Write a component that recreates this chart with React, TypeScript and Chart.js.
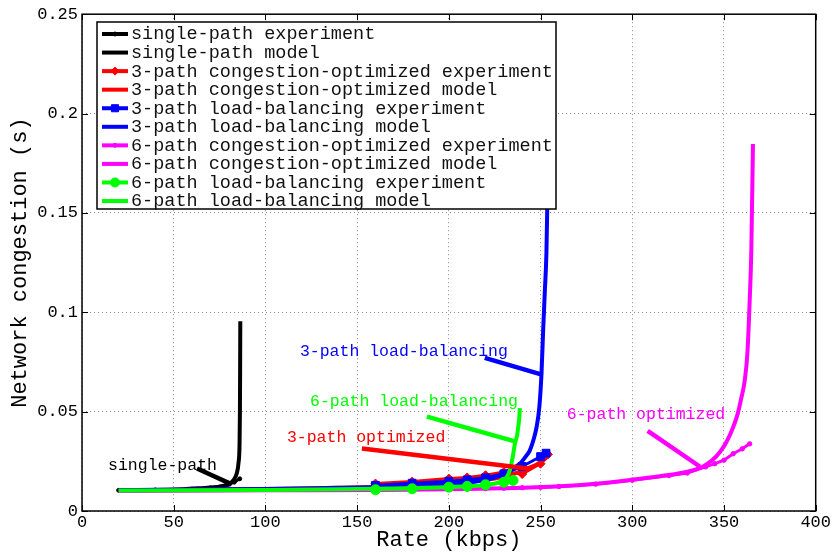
import React, { useEffect, useRef } from 'react';
import { Chart, registerables } from 'chart.js';

Chart.register(...registerables);

const FONT = "'Liberation Mono', 'DejaVu Sans Mono', monospace";

// Axis ticks
const xTickValues = [0, 50, 100, 150, 200, 250, 300, 350, 400];
const yTickValues = [0, 0.05, 0.1, 0.15, 0.2, 0.25];

// single-path
const spExpX = [20, 40, 60, 70, 80, 83, 86];
const spExpY = [0.0104, 0.0106, 0.011, 0.0116, 0.0135, 0.0145, 0.0162];
const spModelX = [20, 40, 55, 65, 72, 77, 80.7, 82.8, 84.3, 85.3, 85.9, 86.1, 86.2, 86.3];
const spModelY = [0.0103, 0.0106, 0.011, 0.0115, 0.0119, 0.0125, 0.0138, 0.0158, 0.0187, 0.024, 0.034, 0.05, 0.07, 0.0955];

// 3-path congestion-optimized
const co3ExpX = [160, 180, 200, 210, 220, 230, 240, 250, 254];
const co3ExpY = [0.0138, 0.0148, 0.0163, 0.0169, 0.018, 0.0196, 0.0186, 0.0238, 0.0285];
const co3ModelX = [20, 60, 100, 140, 160, 180, 200, 215, 225, 235, 243, 250, 254];
const co3ModelY = [0.0104, 0.0107, 0.0111, 0.0117, 0.0121, 0.0128, 0.0138, 0.015, 0.0163, 0.0186, 0.0214, 0.0245, 0.0275];

// 3-path load-balancing
const lb3ExpX = [160, 180, 200, 210, 220, 230, 240, 250, 253];
const lb3ExpY = [0.0129, 0.014, 0.015, 0.0157, 0.0167, 0.0187, 0.0224, 0.0274, 0.0291];
const lb3ModelX = [20, 60, 100, 130, 158.6, 180, 198.7, 210, 218.7, 225, 229.6, 234, 238.7, 242, 244.1, 246.2, 247.8, 249.3, 250.5, 251.4, 252.3, 253.2, 253.8, 254.2];
const lb3ModelY = [0.0105, 0.0108, 0.0111, 0.0115, 0.012, 0.0126, 0.0134, 0.0142, 0.0154, 0.0168, 0.0187, 0.021, 0.0238, 0.0275, 0.0304, 0.036, 0.0421, 0.052, 0.0689, 0.0906, 0.11, 0.13, 0.16, 0.2];

// 6-path congestion-optimized
const co6ExpX = [160, 180, 200, 210, 220, 230, 240, 250, 260, 280, 300, 320, 330, 340, 345, 350, 355, 360, 364];
const co6ExpY = [0.0106, 0.0108, 0.011, 0.0111, 0.0113, 0.0115, 0.0117, 0.0119, 0.0123, 0.0135, 0.0155, 0.0178, 0.0191, 0.0222, 0.0238, 0.0256, 0.0288, 0.0313, 0.0338];
const co6ModelX = [20, 100, 160, 200, 230, 260.5, 280, 299.6, 315, 329.5, 338.6, 343.5, 347.7, 351.5, 355, 357.5, 359.5, 361.3, 362.8, 364, 364.9, 365.8];
const co6ModelY = [0.0101, 0.0104, 0.0106, 0.0109, 0.0114, 0.0124, 0.0137, 0.0157, 0.0175, 0.0196, 0.0224, 0.0255, 0.0296, 0.035, 0.0421, 0.049, 0.0571, 0.0655, 0.08, 0.1056, 0.131, 0.1847];

// 6-path load-balancing
const lb6ExpX = [160, 180, 200, 210, 220, 230, 235];
const lb6ExpY = [0.0107, 0.0112, 0.012, 0.0124, 0.0132, 0.0145, 0.0154];
const lb6ModelX = [20, 60, 100, 140, 170, 198.7, 210, 218.7, 225, 229.6, 231.8, 233.2, 234.8, 236, 237.2, 237.8, 238.4, 238.7];
const lb6ModelY = [0.0103, 0.0104, 0.0106, 0.0109, 0.0113, 0.012, 0.0124, 0.0129, 0.0138, 0.0154, 0.0175, 0.0204, 0.027, 0.0338, 0.038, 0.0421, 0.047, 0.0518];

// Series labels
const seriesLabels = [
  'single-path experiment',
  'single-path model',
  '3-path congestion-optimized experiment',
  '3-path congestion-optimized model',
  '3-path load-balancing experiment',
  '3-path load-balancing model',
  '6-path congestion-optimized experiment',
  '6-path congestion-optimized model',
  '6-path load-balancing experiment',
  '6-path load-balancing model',
];

// Annotation texts and their anchors (data coordinates)
const annotationTexts = ['single-path', '3-path optimized', '6-path load-balancing', '3-path load-balancing', '6-path optimized'];
const annotationColors = ['#000000', '#ff0000', '#00ff00', '#0000ff', '#ff00ff'];
const annotationTextX = [14.2, 111.7, 124.3, 118.8, 264.3];
const annotationTextY = [0.0229, 0.0369, 0.055, 0.0801, 0.0485];
const annotationLineX1 = [62.7, 152.6, 188, 219.6, 308.4];
const annotationLineY1 = [0.0214, 0.0314, 0.0475, 0.0771, 0.0403];
const annotationLineX2 = [81.7, 243.1, 236.5, 251.2, 336.8];
const annotationLineY2 = [0.0134, 0.0214, 0.0349, 0.0685, 0.0224];

const zip = (xs: number[], ys: number[]) => xs.map((x, i) => ({ x, y: ys[i] }));

function drawMarker(ctx: CanvasRenderingContext2D, style: string, x: number, y: number, r: number, color: string) {
  ctx.save();
  ctx.fillStyle = color;
  ctx.strokeStyle = color;
  ctx.lineWidth = 1;
  ctx.beginPath();
  if (style === 'rect') {
    const s = r * Math.SQRT1_2;
    ctx.rect(x - s, y - s, 2 * s, 2 * s);
  } else if (style === 'rectRot') {
    ctx.moveTo(x - r, y);
    ctx.lineTo(x, y - r);
    ctx.lineTo(x + r, y);
    ctx.lineTo(x, y + r);
    ctx.closePath();
  } else {
    ctx.arc(x, y, r, 0, Math.PI * 2);
  }
  ctx.fill();
  ctx.stroke();
  ctx.restore();
}

const overlayPlugin = {
  id: 'overlay',
  afterDatasetsDraw(chart: any) {
    const { ctx, chartArea: a, scales } = chart;
    const xs = scales.x;
    const ys = scales.y;
    ctx.save();
    // annotations
    ctx.font = `16.5px ${FONT}`;
    ctx.textBaseline = 'middle';
    ctx.textAlign = 'left';
    annotationTexts.forEach((t, i) => {
      ctx.fillStyle = annotationColors[i];
      ctx.fillText(t, xs.getPixelForValue(annotationTextX[i]), ys.getPixelForValue(annotationTextY[i]));
    });
    ctx.lineCap = 'butt';
    annotationTexts.forEach((t, i) => {
      ctx.strokeStyle = annotationColors[i];
      ctx.lineWidth = 4.5;
      ctx.beginPath();
      ctx.moveTo(xs.getPixelForValue(annotationLineX1[i]), ys.getPixelForValue(annotationLineY1[i]));
      ctx.lineTo(xs.getPixelForValue(annotationLineX2[i]), ys.getPixelForValue(annotationLineY2[i]));
      ctx.stroke();
    });
    // frame
    ctx.strokeStyle = '#000';
    ctx.lineWidth = 1.5;
    ctx.strokeRect(a.left, a.top, a.right - a.left, a.bottom - a.top);
    ctx.lineWidth = 1;
    const tl = 6;
    ctx.beginPath();
    xTickValues.forEach((v) => {
      const px = Math.round(xs.getPixelForValue(v)) + 0.5;
      ctx.moveTo(px, a.bottom);
      ctx.lineTo(px, a.bottom - tl);
      ctx.moveTo(px, a.top);
      ctx.lineTo(px, a.top + tl);
    });
    yTickValues.forEach((v) => {
      const py = Math.round(ys.getPixelForValue(v)) + 0.5;
      ctx.moveTo(a.left, py);
      ctx.lineTo(a.left + tl, py);
      ctx.moveTo(a.right, py);
      ctx.lineTo(a.right - tl, py);
    });
    ctx.stroke();
    ctx.restore();
  },
  afterDraw(chart: any) {
    const { ctx } = chart;
    const left = 97, top = 22, w = 459, h = 187;
    ctx.save();
    ctx.fillStyle = '#fff';
    ctx.fillRect(left, top, w, h);
    ctx.strokeStyle = '#000';
    ctx.lineWidth = 1.5;
    ctx.strokeRect(left, top, w, h);
    ctx.font = `18.5px ${FONT}`;
    ctx.textBaseline = 'middle';
    ctx.textAlign = 'left';
    chart.data.datasets.forEach((ds: any, i: number) => {
      const y = top + 12 + i * 18.56;
      ctx.strokeStyle = ds.borderColor;
      ctx.lineWidth = 4;
      ctx.beginPath();
      ctx.moveTo(left + 5, y);
      ctx.lineTo(left + 31, y);
      ctx.stroke();
      if (ds.pointRadius > 0) {
        drawMarker(ctx, ds.pointStyle, left + 18, y, Math.max(ds.pointRadius - 0.5, 2), ds.borderColor);
      }
      ctx.fillStyle = '#111';
      ctx.fillText(ds.label, left + 34, y + 0.5);
    });
    ctx.restore();
  },
};

export default function App() {
  const ref = useRef<HTMLCanvasElement | null>(null);

  useEffect(() => {
    if (!ref.current) return;
    Chart.defaults.font.family = FONT;
    const colors = ['#000000', '#000000', '#ff0000', '#ff0000', '#0000ff', '#0000ff', '#ff00ff', '#ff00ff', '#00ff00', '#00ff00'];
    const series = [
      [spExpX, spExpY], [spModelX, spModelY],
      [co3ExpX, co3ExpY], [co3ModelX, co3ModelY],
      [lb3ExpX, lb3ExpY], [lb3ModelX, lb3ModelY],
      [co6ExpX, co6ExpY], [co6ModelX, co6ModelY],
      [lb6ExpX, lb6ExpY], [lb6ModelX, lb6ModelY],
    ];
    const styles = ['circle', null, 'rectRot', null, 'rect', null, 'circle', null, 'circle', null];
    const radii = [2, 0, 4.5, 0, 5.5, 0, 2.2, 0, 5, 0];
    const datasets = series.map(([xs, ys], i) => {
      const isModel = i % 2 === 1;
      return {
        label: seriesLabels[i],
        data: zip(xs as number[], ys as number[]),
        borderColor: colors[i],
        backgroundColor: colors[i],
        borderWidth: isModel ? 4 : 3,
        pointRadius: radii[i],
        pointStyle: styles[i] || 'circle',
        pointBackgroundColor: colors[i],
        pointBorderColor: colors[i],
        pointBorderWidth: 1,
        tension: 0,
        cubicInterpolationMode: isModel ? 'monotone' : 'default',
        fill: false,
        order: 20 - i,
        clip: 0,
      };
    });

    const chart = new Chart(ref.current, {
      type: 'line',
      data: { datasets: datasets as any },
      plugins: [overlayPlugin],
      options: {
        animation: false,
        responsive: false,
        maintainAspectRatio: false,
        layout: { padding: { top: 12, right: 16, bottom: 0, left: 0 } },
        plugins: { legend: { display: false }, tooltip: { enabled: false }, title: { display: false } },
        scales: {
          x: {
            type: 'linear',
            min: 0,
            max: 400,
            afterFit: (s: any) => { s.height = 41; },
            afterBuildTicks: (s: any) => { s.ticks = xTickValues.map((v) => ({ value: v })); },
            ticks: {
              color: '#000',
              font: { size: 17, family: FONT },
              padding: 1,
              maxRotation: 0,
              autoSkip: false,
              callback: (v: any) => String(v),
            },
            grid: { color: 'rgba(0,0,0,0.45)', lineWidth: 1, drawTicks: false },
            border: { display: false, dash: [1, 3] },
            title: {
              display: true,
              text: 'Rate (kbps)',
              color: '#000',
              font: { size: 22, family: FONT, lineHeight: 1 },
              padding: { top: 0, bottom: 1 },
            },
          },
          y: {
            type: 'linear',
            min: 0,
            max: 0.25,
            afterFit: (s: any) => { s.width = 82; },
            afterBuildTicks: (s: any) => { s.ticks = yTickValues.map((v) => ({ value: v })); },
            ticks: {
              color: '#000',
              font: { size: 17, family: FONT },
              padding: 4,
              autoSkip: false,
              callback: (v: any) => String(Number(Number(v).toFixed(3))),
            },
            grid: { color: 'rgba(0,0,0,0.45)', lineWidth: 1, drawTicks: false },
            border: { display: false, dash: [1, 3] },
            title: {
              display: true,
              text: 'Network congestion (s)',
              color: '#000',
              font: { size: 22, family: FONT, lineHeight: 1 },
              padding: { top: 9, bottom: 0 },
            },
          },
        },
      } as any,
    });
    return () => chart.destroy();
  }, []);

  return (
    <div style={{ position: 'fixed', left: 0, top: 0, width: 832, height: 552, background: '#fff' }}>
      <canvas ref={ref} width={832} height={552} style={{ display: 'block', width: 832, height: 552 }} />
    </div>
  );
}
